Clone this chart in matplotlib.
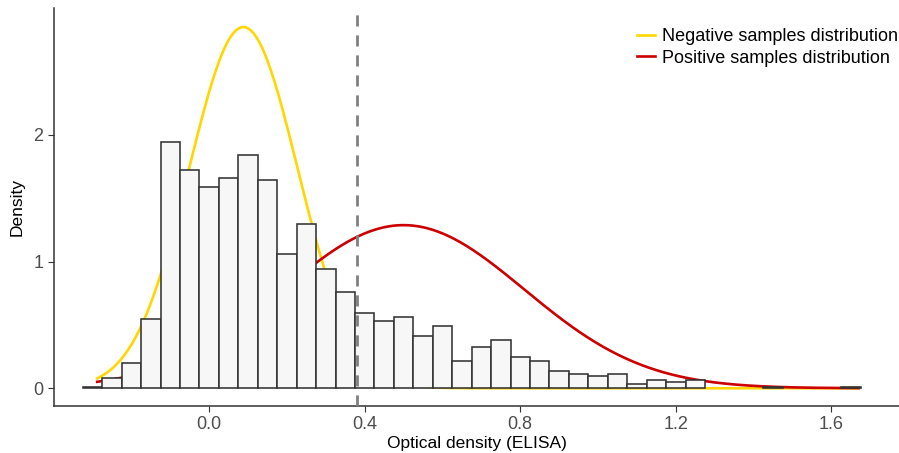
import numpy as np
import matplotlib
matplotlib.use("Agg")
import matplotlib.pyplot as plt
from matplotlib.lines import Line2D

plt.rcParams["font.family"] = ["Liberation Sans", "DejaVu Sans"]

# histogram of optical density values (bin centers, density)
bin_centers = [-0.30, -0.25, -0.20, -0.15, -0.10, -0.05, 0.00, 0.05, 0.10, 0.15,
               0.20, 0.25, 0.30, 0.35, 0.40, 0.45, 0.50, 0.55, 0.60, 0.65,
               0.70, 0.75, 0.80, 0.85, 0.90, 0.95, 1.00, 1.05, 1.10, 1.15,
               1.20, 1.25, 1.30, 1.35, 1.40, 1.45, 1.50, 1.55, 1.60, 1.65]
density = [0.008, 0.084, 0.197, 0.547, 1.939, 1.723, 1.591, 1.657, 1.844, 1.641,
           1.057, 1.294, 0.942, 0.760, 0.596, 0.529, 0.560, 0.413, 0.494, 0.218,
           0.328, 0.379, 0.245, 0.215, 0.134, 0.110, 0.095, 0.112, 0.032, 0.063,
           0.047, 0.063, 0.0, 0.0, 0.0, 0.008, 0.0, 0.0, 0.0, 0.008]
bin_width = 0.05

# fitted normal distributions
neg_mean, neg_sd = 0.088, 0.140
pos_mean, pos_sd = 0.500, 0.310
data_min, data_max = -0.288, 1.670
cutoff = 0.38


def dnorm(x, mu, sd):
    return np.exp(-0.5 * ((x - mu) / sd) ** 2) / (sd * np.sqrt(2 * np.pi))


fig = plt.figure(figsize=(8.99, 4.53), dpi=100)
ax = fig.add_axes([54 / 899, 47 / 453, 845 / 899, 398 / 453])

xs = np.linspace(data_min, data_max, 400)
ax.plot(xs, dnorm(xs, neg_mean, neg_sd), color="#FFD700", lw=1.9, zorder=1)
ax.plot(xs, dnorm(xs, pos_mean, pos_sd), color="#CC0000", lw=1.9, zorder=1)

centers = np.array(bin_centers)
heights = np.array(density)
keep = heights > 0
ax.bar(centers[keep], heights[keep], width=bin_width, color="#F7F7F7",
       edgecolor="#333333", linewidth=1.15, zorder=2)

ax.axvline(cutoff, color="#808080", lw=2.0, ls=(0, (4, 3.2)), zorder=3)

ax.set_xlim(-0.399, 1.774)
ax.set_ylim(-0.14, 3.0)
ax.set_xticks([0.0, 0.4, 0.8, 1.2, 1.6])
ax.set_xticklabels(["0.0", "0.4", "0.8", "1.2", "1.6"])
ax.set_yticks([0, 1, 2])
ax.tick_params(colors="#333333", labelcolor="#4D4D4D", labelsize=13,
               length=4, width=0.8)
ax.set_xlabel("Optical density (ELISA)", fontsize=12.5, labelpad=2)
ax.set_ylabel("Density", fontsize=12.5, labelpad=6)

for side in ["top", "right"]:
    ax.spines[side].set_visible(False)
for side in ["left", "bottom"]:
    ax.spines[side].set_color("#333333")
    ax.spines[side].set_linewidth(1.1)

handles = [Line2D([], [], color="#FFD700", lw=1.9),
           Line2D([], [], color="#CC0000", lw=1.9)]
fig.legend(handles, ["Negative samples distribution", "Positive samples distribution"],
           loc="upper left", bbox_to_anchor=(630 / 899, 1 - 21 / 453),
           frameon=False, fontsize=13, handlelength=1.0, handletextpad=0.35,
           labelspacing=0.25, borderaxespad=0)

fig.savefig("out.png", dpi=100)
